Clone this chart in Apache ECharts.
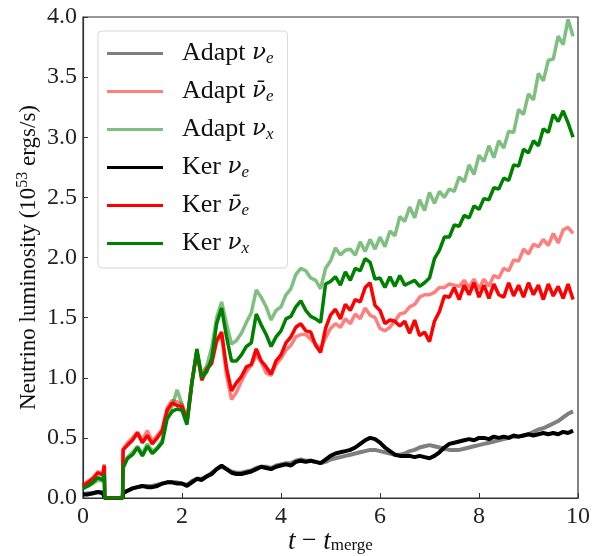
<!DOCTYPE html>
<html>
<head>
<meta charset="utf-8">
<script src="https://cdn.jsdelivr.net/npm/echarts@6/dist/echarts.min.js"></script>
<style>
  html, body { margin: 0; padding: 0; background: #fff; }
  #chart { width: 598px; height: 556px; }
</style>
</head>
<body>
<div id="chart"></div>
<script>
// Time after merger (sample grid shared by all curves)
const times = [0, 0.1, 0.2, 0.3, 0.4, 0.43, 0.44, 0.8, 0.81, 0.9,
  1.0, 1.1, 1.2, 1.3, 1.4, 1.5, 1.6, 1.7, 1.8, 1.9,
  2.0, 2.1, 2.2, 2.3, 2.4, 2.5, 2.6, 2.7, 2.8, 2.9,
  3.0, 3.1, 3.2, 3.3, 3.4, 3.5, 3.6, 3.7, 3.8, 3.9,
  4.0, 4.1, 4.2, 4.3, 4.4, 4.5, 4.6, 4.7, 4.8, 4.9,
  5.0, 5.1, 5.2, 5.3, 5.4, 5.5, 5.6, 5.7, 5.8, 5.9,
  6.0, 6.1, 6.2, 6.3, 6.4, 6.5, 6.6, 6.7, 6.8, 6.9,
  7.0, 7.1, 7.2, 7.3, 7.4, 7.5, 7.6, 7.7, 7.8, 7.9,
  8.0, 8.1, 8.2, 8.3, 8.4, 8.5, 8.6, 8.7, 8.8, 8.9,
  9.0, 9.1, 9.2, 9.3, 9.4, 9.5, 9.6, 9.7, 9.8, 9.9];

// Luminosities in units of 1e53 erg/s
const adaptNuE = [0.03, 0.04, 0.04, 0.05, 0.05, 0.05, 0, 0, 0.05, 0.06,
  0.08, 0.09, 0.10, 0.10, 0.10, 0.11, 0.12, 0.13, 0.13, 0.13,
  0.12, 0.11, 0.14, 0.16, 0.16, 0.18, 0.21, 0.24, 0.26, 0.24,
  0.22, 0.21, 0.21, 0.22, 0.23, 0.25, 0.26, 0.26, 0.25, 0.27,
  0.28, 0.29, 0.29, 0.31, 0.32, 0.31, 0.31, 0.30, 0.29, 0.30,
  0.32, 0.33, 0.34, 0.35, 0.36, 0.37, 0.38, 0.39, 0.40, 0.40,
  0.39, 0.38, 0.37, 0.36, 0.36, 0.37, 0.39, 0.40, 0.42, 0.43,
  0.44, 0.43, 0.42, 0.41, 0.40, 0.40, 0.40, 0.41, 0.42, 0.43,
  0.44, 0.45, 0.46, 0.47, 0.48, 0.49, 0.50, 0.51, 0.51, 0.52,
  0.53, 0.55, 0.57, 0.58, 0.60, 0.62, 0.64, 0.67, 0.70, 0.72];

const adaptNuEbar = [0.11, 0.14, 0.17, 0.22, 0.20, 0.28, 0, 0, 0.41, 0.46,
  0.50, 0.55, 0.48, 0.56, 0.47, 0.52, 0.57, 0.75, 0.81, 0.80,
  0.78, 0.65, 0.97, 1.20, 1.00, 1.08, 1.13, 1.30, 1.35, 1.02,
  0.82, 0.88, 0.97, 1.05, 1.10, 1.19, 1.13, 1.04, 1.02, 1.11,
  1.16, 1.23, 1.27, 1.34, 1.36, 1.36, 1.32, 1.28, 1.24, 1.33,
  1.41, 1.45, 1.42, 1.49, 1.45, 1.53, 1.49, 1.58, 1.52, 1.50,
  1.41, 1.39, 1.42, 1.47, 1.53, 1.54, 1.59, 1.61, 1.67, 1.69,
  1.69, 1.71, 1.75, 1.75, 1.78, 1.77, 1.76, 1.81, 1.75, 1.82,
  1.74, 1.82, 1.76, 1.85, 1.83, 1.91, 1.89, 1.98, 1.97, 2.07,
  2.03, 2.11, 2.09, 2.15, 2.10, 2.20, 2.12, 2.23, 2.25, 2.20];

const adaptNuX = [0.08, 0.10, 0.12, 0.15, 0.14, 0.19, 0, 0, 0.27, 0.34,
  0.38, 0.43, 0.37, 0.45, 0.39, 0.42, 0.48, 0.70, 0.76, 0.90,
  0.78, 0.64, 0.97, 1.22, 1.03, 1.10, 1.25, 1.50, 1.63, 1.45,
  1.28, 1.31, 1.37, 1.46, 1.54, 1.73, 1.67, 1.59, 1.48, 1.56,
  1.59, 1.69, 1.74, 1.86, 1.91, 1.89, 1.83, 1.81, 1.74, 1.91,
  1.97, 2.08, 2.02, 2.06, 2.07, 2.02, 2.13, 2.05, 2.15, 2.07,
  2.17, 2.09, 2.22, 2.18, 2.34, 2.30, 2.42, 2.33, 2.48, 2.39,
  2.54, 2.45, 2.55, 2.50, 2.57, 2.55, 2.67, 2.63, 2.77, 2.69,
  2.85, 2.80, 2.93, 2.83, 2.97, 2.91, 3.05, 3.04, 3.23, 3.19,
  3.36, 3.31, 3.53, 3.47, 3.64, 3.65, 3.84, 3.77, 3.98, 3.84];

const kerNuE = [0.03, 0.03, 0.04, 0.05, 0.04, 0.04, 0, 0, 0.04, 0.06,
  0.08, 0.09, 0.10, 0.09, 0.09, 0.10, 0.12, 0.13, 0.13, 0.12,
  0.12, 0.10, 0.13, 0.16, 0.15, 0.18, 0.20, 0.24, 0.27, 0.24,
  0.21, 0.20, 0.20, 0.21, 0.22, 0.24, 0.26, 0.25, 0.24, 0.26,
  0.27, 0.28, 0.27, 0.30, 0.31, 0.30, 0.31, 0.30, 0.29, 0.32,
  0.35, 0.37, 0.38, 0.39, 0.40, 0.42, 0.45, 0.48, 0.50, 0.49,
  0.46, 0.42, 0.39, 0.36, 0.35, 0.35, 0.35, 0.34, 0.35, 0.34,
  0.33, 0.35, 0.38, 0.42, 0.45, 0.46, 0.47, 0.48, 0.49, 0.48,
  0.50, 0.50, 0.49, 0.51, 0.50, 0.51, 0.50, 0.52, 0.51, 0.52,
  0.53, 0.52, 0.53, 0.54, 0.53, 0.54, 0.53, 0.55, 0.54, 0.56];

const kerNuEbar = [0.10, 0.13, 0.16, 0.21, 0.19, 0.27, 0, 0, 0.40, 0.44,
  0.48, 0.54, 0.46, 0.52, 0.45, 0.50, 0.56, 0.73, 0.79, 0.77,
  0.76, 0.63, 0.96, 1.22, 0.98, 1.07, 1.12, 1.31, 1.38, 1.08,
  0.89, 0.96, 1.01, 1.09, 1.11, 1.24, 1.14, 1.09, 1.03, 1.14,
  1.19, 1.29, 1.34, 1.42, 1.45, 1.39, 1.38, 1.27, 1.21, 1.41,
  1.52, 1.57, 1.49, 1.61, 1.56, 1.65, 1.63, 1.75, 1.79, 1.60,
  1.56, 1.45, 1.48, 1.47, 1.43, 1.47, 1.37, 1.48, 1.35, 1.38,
  1.30, 1.47, 1.55, 1.68, 1.67, 1.75, 1.65, 1.77, 1.69, 1.79,
  1.67, 1.77, 1.66, 1.78, 1.69, 1.67, 1.79, 1.68, 1.77, 1.67,
  1.79, 1.69, 1.77, 1.65, 1.78, 1.68, 1.76, 1.66, 1.78, 1.65];

const kerNuX = [0.08, 0.10, 0.13, 0.17, 0.15, 0.20, 0, 0, 0.25, 0.33,
  0.36, 0.42, 0.35, 0.43, 0.37, 0.41, 0.46, 0.66, 0.72, 0.74,
  0.73, 0.61, 0.95, 1.24, 1.00, 1.05, 1.16, 1.45, 1.58, 1.34,
  1.14, 1.14, 1.19, 1.26, 1.29, 1.53, 1.44, 1.36, 1.26, 1.34,
  1.39, 1.49, 1.51, 1.59, 1.64, 1.56, 1.51, 1.49, 1.46, 1.78,
  1.80, 1.84, 1.77, 1.88, 1.81, 1.91, 1.89, 1.99, 1.96, 1.82,
  1.83, 1.75, 1.84, 1.76, 1.85, 1.77, 1.79, 1.81, 1.76, 1.79,
  1.83, 1.99, 2.06, 2.17, 2.17, 2.27, 2.26, 2.35, 2.33, 2.43,
  2.40, 2.49, 2.48, 2.58, 2.57, 2.66, 2.64, 2.77, 2.76, 2.90,
  2.87, 2.97, 2.93, 3.07, 3.04, 3.19, 3.13, 3.22, 3.12, 3.00];

// Axis ticks
const xTicks = { min: 0, max: 10, step: 2 };
const yTicks = { min: 0, max: 4, step: 0.5 };

const serif = '"Liberation Serif", "DejaVu Serif", serif';
const greek = '"DejaVu Serif", serif';

// Legend labels use rich text: italic Greek letter plus subscript
const curves = [
  { name: 'Adapt νe',  label: 'Adapt {g|ν}{s|e}',  values: adaptNuE,    color: '#000000', opacity: 0.5, width: 4 },
  { name: 'Adapt ν̄e', label: 'Adapt {g|ν̄}{s|e}', values: adaptNuEbar, color: '#ff0000', opacity: 0.5, width: 3.5 },
  { name: 'Adapt νx',  label: 'Adapt {g|ν}{s|x}',  values: adaptNuX,    color: '#008000', opacity: 0.5, width: 3.5 },
  { name: 'Ker νe',    label: 'Ker {g|ν}{s|e}',    values: kerNuE,      color: '#000000', opacity: 1,   width: 4 },
  { name: 'Ker ν̄e',   label: 'Ker {g|ν̄}{s|e}',   values: kerNuEbar,   color: '#ff0000', opacity: 1,   width: 3.5 },
  { name: 'Ker νx',    label: 'Ker {g|ν}{s|x}',    values: kerNuX,      color: '#008000', opacity: 1,   width: 3.5 }
];
const labelByName = {};
curves.forEach(c => { labelByName[c.name] = c.label; });

const chart = echarts.init(document.getElementById('chart'), null, { renderer: 'canvas' });

chart.setOption({
  animation: false,
  backgroundColor: '#ffffff',
  grid: {
    left: 83, right: 20, top: 17, bottom: 58,
    containLabel: false,
    outerBoundsMode: 'none',
    show: true, borderColor: '#333333', borderWidth: 1.2
  },
  legend: {
    orient: 'vertical',
    left: 98, top: 31,
    padding: [9, 14, 11, 9],
    itemGap: 11,
    itemWidth: 56,
    itemHeight: 3,
    icon: 'rect',
    backgroundColor: 'rgba(255,255,255,0.85)',
    borderColor: '#d8d8d8',
    borderWidth: 1,
    borderRadius: 4,
    data: curves.map(c => c.name),
    formatter: name => '{sp|}' + labelByName[name],
    textStyle: {
      fontFamily: serif, fontSize: 26, color: '#111', lineHeight: 24,
      rich: {
        sp: { width: 14, lineHeight: 24 },
        g: { fontFamily: greek, fontStyle: 'italic', fontSize: 23, lineHeight: 24 },
        s: { fontFamily: serif, fontStyle: 'italic', fontSize: 17, lineHeight: 24, padding: [10, 0, 0, 0] }
      }
    }
  },
  xAxis: {
    type: 'value',
    min: xTicks.min, max: xTicks.max, interval: xTicks.step,
    name: '{i|t} − {i|t}{sub|merge}',
    nameLocation: 'middle',
    nameGap: 30,
    nameMoveOverlap: false,
    nameTextStyle: {
      fontFamily: serif, fontSize: 26, color: '#111',
      rich: {
        i: { fontFamily: serif, fontStyle: 'italic', fontSize: 27 },
        sub: { fontFamily: serif, fontSize: 17, padding: [8, 0, 0, 0] }
      }
    },
    axisLine: { show: true, lineStyle: { color: '#333333', width: 1.2 } },
    axisTick: { show: true, inside: true, length: 5, lineStyle: { color: '#333333', width: 1 } },
    axisLabel: { fontFamily: serif, fontSize: 24, color: '#222', margin: 7 },
    splitLine: { show: false }
  },
  yAxis: {
    type: 'value',
    min: yTicks.min, max: yTicks.max, interval: yTicks.step,
    name: 'Neutrino luminosity (10{sup|53} ergs/s)',
    nameLocation: 'middle',
    nameGap: 40,
    nameMoveOverlap: false,
    nameRotate: 90,
    nameTextStyle: {
      fontFamily: serif, fontSize: 23, color: '#111',
      rich: {
        sup: { fontFamily: serif, fontSize: 16, padding: [0, 0, 12, 0] }
      }
    },
    axisLine: { show: true, lineStyle: { color: '#333333', width: 1.2 } },
    axisTick: { show: true, inside: true, length: 5, lineStyle: { color: '#333333', width: 1 } },
    axisLabel: { fontFamily: serif, fontSize: 24, color: '#222', margin: 6, formatter: v => v.toFixed(1) },
    splitLine: { show: false }
  },
  series: curves.map(c => ({
    name: c.name,
    type: 'line',
    data: times.map((t, i) => [t, c.values[i]]),
    showSymbol: false,
    symbol: 'none',
    lineStyle: { color: c.color, width: c.width, opacity: c.opacity },
    itemStyle: { color: c.color, opacity: c.opacity },
    emphasis: { disabled: true }
  }))
});
</script>
</body>
</html>
